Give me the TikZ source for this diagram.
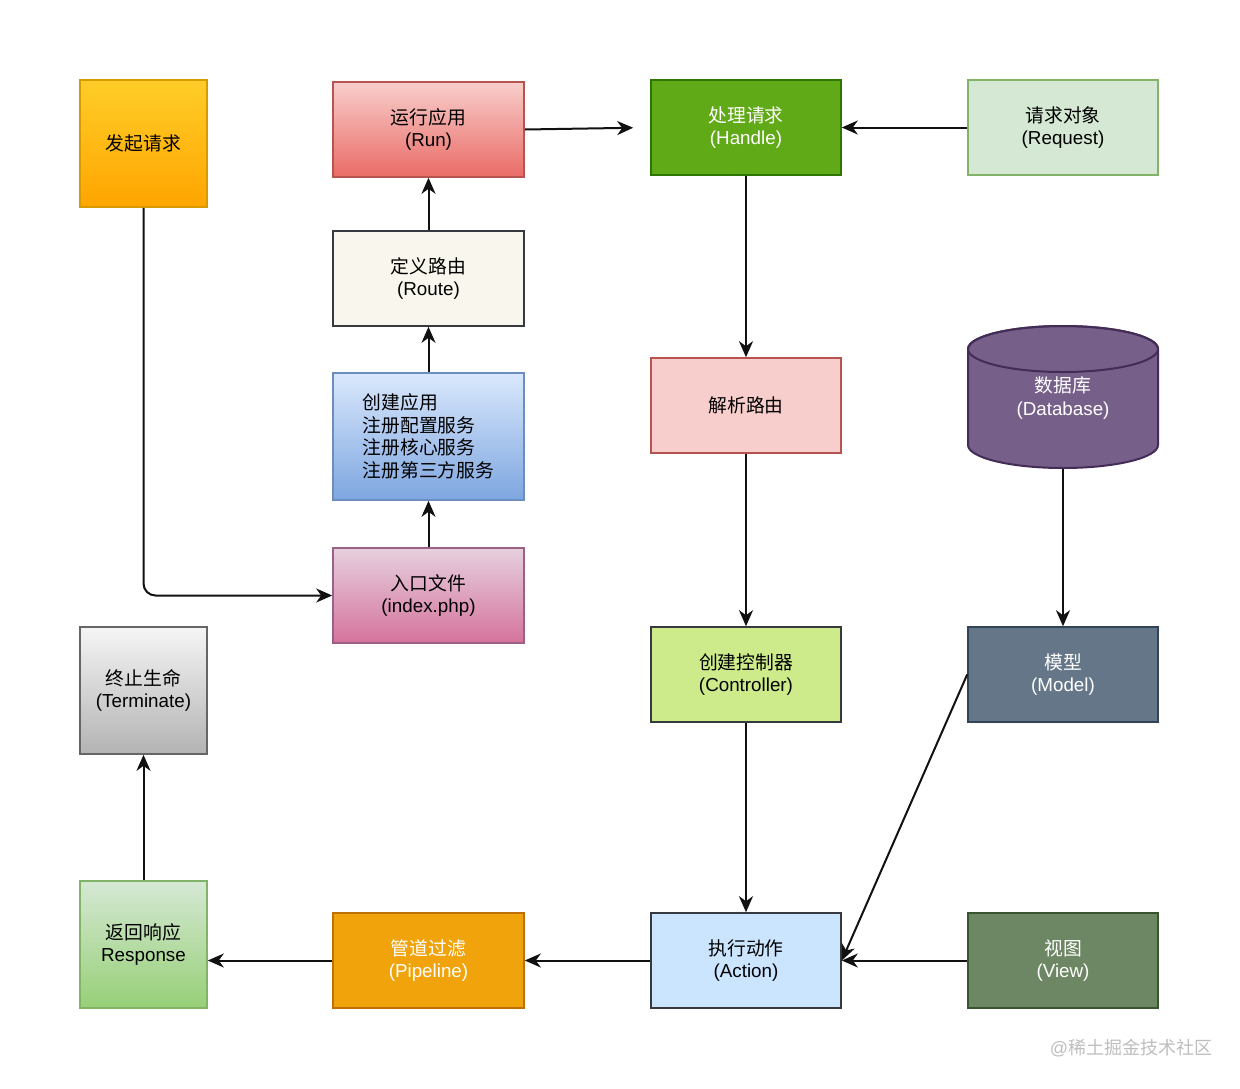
\documentclass[tikz,border=0pt]{standalone}
\usepackage{fontspec}
\setmainfont{Liberation Sans}
\newfontfamily\cjk{Noto Sans CJK SC}
\newcommand\zhtxt[1]{{\cjk #1}}
\usetikzlibrary{arrows.meta}
\definecolor{linec}{HTML}{111111}
\tikzset{
  box/.style={draw, line width=1.6pt, minimum width=191pt, minimum height=95pt, inner sep=0pt, align=center,
    font=\fontsize{18.8pt}{22.5pt}\selectfont, text=black},
  sq/.style={box, minimum width=127pt, minimum height=127pt},
  arr/.style={draw=linec, line width=2pt, -{Stealth[length=16pt,width=14pt,inset=5pt]}},
}
\begin{document}
\begin{tikzpicture}[x=1pt,y=-1pt]
\useasboundingbox[fill=white] (0,0) rectangle (1240,1088);
% left column
\node[sq, draw={rgb,255:red,215;green,155;blue,0}, top color={rgb,255:red,255;green,205;blue,40}, bottom color={rgb,255:red,255;green,165;blue,0}] (req) at (143.5,143.5) {\zhtxt{发起请求}};
\node[sq, draw={rgb,255:red,102;green,102;blue,102}, top color={rgb,255:red,245;green,245;blue,245}, bottom color={rgb,255:red,179;green,179;blue,179}] (term) at (143.5,690.5) {\zhtxt{终止生命}\\(Terminate)};
\node[sq, draw={rgb,255:red,130;green,179;blue,102}, top color={rgb,255:red,213;green,232;blue,212}, bottom color={rgb,255:red,151;green,208;blue,119}] (resp) at (143.5,944.5) {\zhtxt{返回响应}\\Response};
% second column
\node[box, draw={rgb,255:red,184;green,84;blue,80}, top color={rgb,255:red,248;green,206;blue,204}, bottom color={rgb,255:red,234;green,107;blue,102}] (run) at (428.5,129.5) {\zhtxt{运行应用}\\(Run)};
\node[box, draw={rgb,255:red,54;green,57;blue,61}, fill={rgb,255:red,249;green,247;blue,237}] (route) at (428.5,278.5) {\zhtxt{定义路由}\\(Route)};
\node[box, minimum height=127pt, align=left, draw={rgb,255:red,108;green,142;blue,191}, top color={rgb,255:red,218;green,232;blue,252}, bottom color={rgb,255:red,126;green,166;blue,224}] (create) at (428.5,436.5) {\zhtxt{创建应用}\\\zhtxt{注册配置服务}\\\zhtxt{注册核心服务}\\\zhtxt{注册第三方服务}};
\node[box, draw={rgb,255:red,153;green,97;blue,133}, top color={rgb,255:red,230;green,208;blue,222}, bottom color={rgb,255:red,213;green,115;blue,157}] (entry) at (428.5,595.5) {\zhtxt{入口文件}\\(index.php)};
\node[box, text=white, draw={rgb,255:red,189;green,112;blue,0}, fill={rgb,255:red,240;green,163;blue,10}] (pipe) at (428.5,960.5) {\zhtxt{管道过滤}\\(Pipeline)};
% third column
\node[box, minimum width=190pt, text=white, draw={rgb,255:red,45;green,118;blue,0}, fill={rgb,255:red,96;green,169;blue,23}] (handle) at (746,127.5) {\zhtxt{处理请求}\\(Handle)};
\node[box, minimum width=190pt, draw={rgb,255:red,184;green,84;blue,80}, fill={rgb,255:red,248;green,206;blue,204}] (parse) at (746,405.5) {\zhtxt{解析路由}};
\node[box, minimum width=190pt, draw={rgb,255:red,54;green,57;blue,61}, fill={rgb,255:red,205;green,235;blue,139}] (ctrl) at (746,674.5) {\zhtxt{创建控制器}\\(Controller)};
\node[box, minimum width=190pt, draw={rgb,255:red,54;green,57;blue,61}, fill={rgb,255:red,204;green,229;blue,255}] (action) at (746,960.5) {\zhtxt{执行动作}\\(Action)};
% fourth column
\node[box, minimum width=190pt, draw={rgb,255:red,130;green,179;blue,102}, fill={rgb,255:red,213;green,232;blue,212}] (reqobj) at (1063,127.5) {\zhtxt{请求对象}\\(Request)};
\node[box, minimum width=190pt, text=white, draw={rgb,255:red,49;green,67;blue,84}, fill={rgb,255:red,100;green,118;blue,135}] (model) at (1063,674.5) {\zhtxt{模型}\\(Model)};
\node[box, minimum width=190pt, text=white, draw={rgb,255:red,58;green,84;blue,49}, fill={rgb,255:red,109;green,135;blue,100}] (view) at (1063,960.5) {\zhtxt{视图}\\(View)};
% database cylinder
\filldraw[line width=2pt, draw={rgb,255:red,67;green,45;blue,87}, fill={rgb,255:red,118;green,96;blue,138}]
  (968,349) -- (968,445) arc[start angle=180, end angle=360, x radius=95pt, y radius=23pt]
  -- (1158,349) arc[start angle=0, end angle=180, x radius=95pt, y radius=23pt] -- cycle;
\draw[line width=2pt, draw={rgb,255:red,67;green,45;blue,87}] (1063,349) ellipse[x radius=95pt, y radius=23pt];
\node[minimum width=190pt, minimum height=142pt, inner sep=0pt, align=center, text=white,
  font=\fontsize{18.8pt}{22.5pt}\selectfont] (db) at (1063,398) {\zhtxt{数据库}\\(Database)};
% connectors
\draw[arr, rounded corners=12pt] (req.south) |- (entry.west);
\draw[arr] (entry.north) -- (create.south);
\draw[arr] (create.north) -- (route.south);
\draw[arr] (route.north) -- (run.south);
\draw[arr, shorten >=17pt] (run.east) -- (handle.west);
\draw[arr] (reqobj.west) -- (handle.east);
\draw[arr] (handle.south) -- (parse.north);
\draw[arr] (parse.south) -- (ctrl.north);
\draw[arr] (db.south) -- (model.north);
\draw[arr] (ctrl.south) -- (action.north);
\draw[arr] (model.west) -- (action.east);
\draw[arr] (view.west) -- (action.east);
\draw[arr] (action.west) -- (pipe.east);
\draw[arr] (pipe.west) -- (pipe.west -| resp.east);
\draw[arr] (resp.north) -- (term.south);
% watermark
\node[text={rgb,255:red,190;green,190;blue,190}, font=\fontsize{18pt}{20pt}\selectfont, inner sep=0pt] (wm) at (1131,1048) {@\zhtxt{稀土掘金技术社区}};
\end{tikzpicture}
\end{document}
